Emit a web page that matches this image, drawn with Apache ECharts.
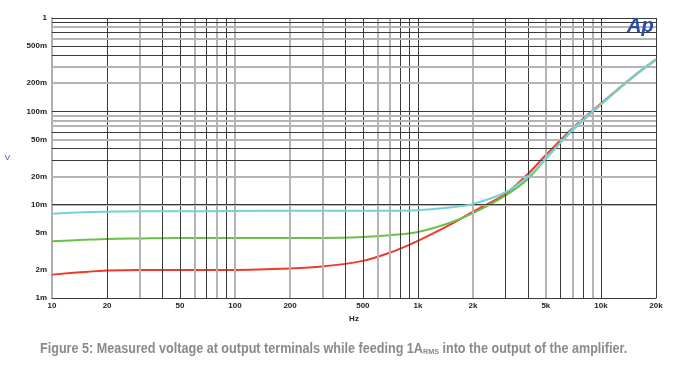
<!DOCTYPE html>
<html><head><meta charset="utf-8">
<script src="https://cdn.jsdelivr.net/npm/echarts@6/dist/echarts.min.js"></script>
<style>html,body{margin:0;padding:0;background:#fff}#c{width:690px;height:370px}</style>
</head><body><div id="c"></div>
<script>
const freqs = [10, 15, 20, 30, 50, 100, 200, 300, 500, 700, 1000, 1500, 2000, 3000, 4000, 5000, 7000, 10000, 15000, 20000];
const red   = [0.00178, 0.0019, 0.00197, 0.0020, 0.0020, 0.0020, 0.00207, 0.00217, 0.0025, 0.00305, 0.0041, 0.0061, 0.0084, 0.0130, 0.0215, 0.034, 0.066, 0.121, 0.236, 0.361];
const green = [0.00405, 0.0042, 0.0043, 0.00435, 0.0044, 0.0044, 0.0044, 0.0044, 0.0045, 0.0047, 0.0051, 0.0064, 0.0081, 0.0125, 0.0190, 0.031, 0.063, 0.118, 0.233, 0.355];
const cyan  = [0.0080, 0.0083, 0.0084, 0.0085, 0.0085, 0.00855, 0.0086, 0.0086, 0.0086, 0.0086, 0.0087, 0.0093, 0.0102, 0.0135, 0.0200, 0.031, 0.064, 0.119, 0.235, 0.360];
const xTickLabels = [10, 20, 50, 100, 200, 500, 1000, 2000, 5000, 10000, 20000];
const yTickLabels = [0.001, 0.002, 0.005, 0.01, 0.02, 0.05, 0.1, 0.2, 0.5, 1];
const xGrid = [20,30,40,50,60,70,80,90,100,200,300,400,500,600,700,800,900,1000,2000,3000,4000,5000,6000,7000,8000,9000,10000,20000];
const yGrid = [0.002,0.003,0.004,0.005,0.006,0.007,0.008,0.009,0.01,0.02,0.03,0.04,0.05,0.06,0.07,0.08,0.09,0.1,0.2,0.3,0.4,0.5,0.6,0.7,0.8,0.9,1];
const xLight = [30,60,80,100,200,300,600,700,2000,5000,7000,9000];
const yLight = [0.8,0.6,0.3,0.2,0.09,0.08,0.07,0.05,0.02,0.008,0.006,0.005,0.003,0.002];

function fmtHz(v){ return v >= 1000 ? (v/1000) + 'k' : String(v); }
function fmtV(v){ if (v >= 1) return String(Math.round(v)); return Math.round(v*1000) + 'm'; }

const chart = echarts.init(document.getElementById('c'), null, {renderer:'canvas'});
const pair = (arr) => freqs.map((f,i) => [f, arr[i]]);
const dark = {color:'#3a3a3a', width:1, type:'solid'};
const light = {color:'#b4b4b4', width:2, type:'solid'};
const gridLines = [];
xGrid.forEach(v => gridLines.push({xAxis: v, lineStyle: xLight.includes(v) ? light : dark}));
yGrid.forEach(v => gridLines.push({yAxis: v, lineStyle: yLight.includes(v) ? light : dark}));

chart.setOption({
  animation: false,
  backgroundColor: '#fff',
  grid: {left: 52, right: 34, top: 18, bottom: 72},
  xAxis: {
    type: 'log', min: 10, max: 20000, logBase: 10,
    name: 'Hz', nameLocation: 'middle', nameGap: 17,
    nameTextStyle: {fontSize: 8, color: '#222', fontFamily: 'Liberation Sans', fontWeight: 'bold'},
    axisLine: {show: true, lineStyle: {color: '#3a3a3a', width: 1}},
    axisTick: {show: false},
    splitLine: {show: false},
    minorSplitLine: {show: false},
    axisLabel: {customValues: xTickLabels, formatter: fmtHz, fontSize: 8, color: '#222', fontFamily: 'Liberation Sans', fontWeight: 'bold', margin: 4}
  },
  yAxis: {
    type: 'log', min: 0.001, max: 1, logBase: 10,
    name: 'V', nameLocation: 'middle', nameGap: 42, nameRotate: 0,
    nameTextStyle: {fontSize: 8, color: '#4a4aa0', fontFamily: 'Liberation Sans'},
    axisLine: {show: true, lineStyle: {color: '#b0b0b0', width: 2}},
    axisTick: {show: false},
    splitLine: {show: false},
    axisLabel: {customValues: yTickLabels, formatter: fmtV, fontSize: 8, color: '#222', fontFamily: 'Liberation Sans', fontWeight: 'bold', margin: 5}
  },
  series: [
    {type: 'line', data: [], silent: true,
     markLine: {silent: true, symbol: 'none', label: {show: false}, animation: false, data: gridLines}},
    {type: 'line', name: 'red', data: pair(red), smooth: 0.3, showSymbol: false, lineStyle: {color: '#f23a2a', width: 2}, z: 3},
    {type: 'line', name: 'green', data: pair(green), smooth: 0.3, showSymbol: false, lineStyle: {color: '#6cbf48', width: 2}, z: 4},
    {type: 'line', name: 'cyan', data: pair(cyan), smooth: 0.3, showSymbol: false, lineStyle: {color: '#76d0d8', width: 2}, z: 5}
  ],
  graphic: [
    {type: 'text', x: 627, y: 16, style: {text: 'Ap', fontSize: 20, fontWeight: 'bold', fontStyle: 'italic', fill: '#2b4ba8', fontFamily: 'Liberation Sans'}, z: 10},
    {type: 'text', x: 40, y: 342, scaleX: 0.9, style: {
      rich: {n: {fontSize: 14, fill: '#8a8a8a', fontFamily: 'Liberation Sans', fontWeight: 'bold'},
             s: {fontSize: 8, fill: '#8a8a8a', fontFamily: 'Liberation Sans', fontWeight: 'bold', verticalAlign: 'bottom', padding: [6,0,0,0]}},
      text: '{n|Figure 5: Measured voltage at output terminals while feeding 1A}{s|RMS}{n| into the output of the amplifier.}'
    }}
  ]
});
</script></body></html>
